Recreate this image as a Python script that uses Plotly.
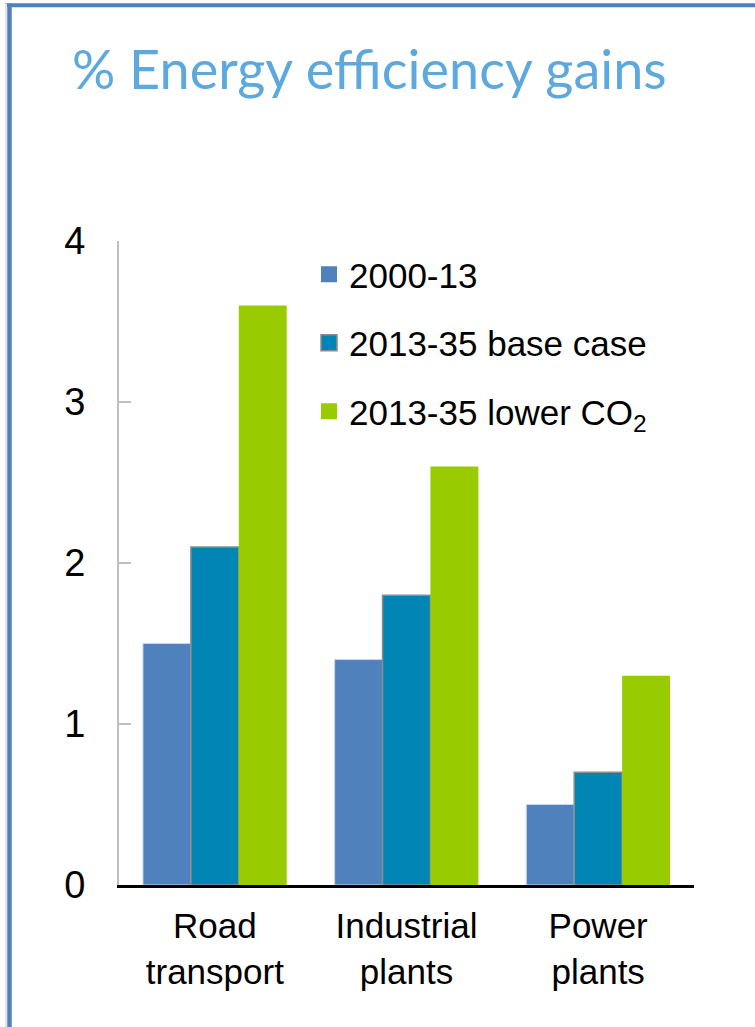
import plotly.graph_objects as go

# Sectors on the x axis (two-line tick labels)
categories = ["Road<br>transport", "Industrial<br>plants", "Power<br>plants"]

# Average annual energy efficiency gains, %
series_names = ["2000-13", "2013-35 base case", "2013-35 lower CO<sub>2</sub>"]
gains_2000_13 = [1.5, 1.4, 0.5]
gains_2013_35_base = [2.1, 1.8, 0.7]
gains_2013_35_low_co2 = [3.6, 2.6, 1.3]

y_ticks = [0, 1, 2, 3, 4]

colors = ["#4F81BD", "#0085B5", "#99CC00"]
outline_colors = ["#C9D6EA", "#8C8C8C", "#99CC00"]
outline_widths = [1, 1.5, 0]

W, H = 755, 1027
M_L, M_R, M_T, M_B = 119, 61, 241, 142
plot_w = W - M_L - M_R
plot_h = H - M_T - M_B


def px_to_paper_x(px):
    return (px - M_L) / plot_w


def px_to_paper_y(py):
    return (H - M_B - py) / plot_h


fig = go.Figure()

values = [gains_2000_13, gains_2013_35_base, gains_2013_35_low_co2]
for i, (name, vals) in enumerate(zip(series_names, values)):
    fig.add_trace(go.Bar(
        x=categories,
        y=vals,
        name=name,
        showlegend=False,
        marker=dict(color=colors[i],
                    line=dict(color=outline_colors[i], width=outline_widths[i])),
    ))

# Legend entries with larger square swatches
for i, name in enumerate(series_names):
    fig.add_trace(go.Scatter(
        x=[None], y=[None],
        mode="markers",
        name=name,
        legendgroup=f"g{i}",
        marker=dict(symbol="square", size=16, color=colors[i],
                    line=dict(color=outline_colors[i] if i == 1 else colors[i],
                              width=1.5 if i == 1 else 0)),
    ))

fig.update_layout(
    width=W,
    height=H,
    margin=dict(l=M_L, r=M_R, t=M_T, b=M_B, pad=0),
    paper_bgcolor="white",
    plot_bgcolor="white",
    barmode="group",
    bargap=0.25,
    bargroupgap=0,
    font=dict(family="Liberation Sans, Arial, sans-serif", color="black"),
    title=dict(
        text="% Energy efficiency gains",
        font=dict(family="Lato, sans-serif", size=54, color="#5DA9DD"),
        xref="container", yref="container",
        x=72 / W, xanchor="left",
        y=1 - 51 / H, yanchor="top",
    ),
    legend=dict(
        x=px_to_paper_x(309), xanchor="left",
        y=px_to_paper_y(245), yanchor="top",
        font=dict(size=35, color="black"),
        bgcolor="rgba(0,0,0,0)",
        traceorder="grouped",
        tracegroupgap=20,
    ),
    showlegend=True,
)

fig.update_yaxes(
    range=[0, 4],
    tickvals=y_ticks,
    ticks="inside",
    ticklen=12,
    tickwidth=2,
    tickcolor="#BFBFBF",
    showline=True,
    linecolor="#BFBFBF",
    linewidth=2,
    showgrid=False,
    zeroline=False,
    tickfont=dict(size=38, color="black"),
    ticklabelstandoff=24,
)

fig.update_xaxes(
    showline=True,
    linecolor="black",
    linewidth=3,
    ticks="",
    showgrid=False,
    tickfont=dict(size=35, color="black"),
    ticklabelstandoff=8,
)

# Slide frame: blue rules along the top and left edges
fig.add_shape(type="line", xref="paper", yref="paper",
              x0=px_to_paper_x(5), x1=px_to_paper_x(760),
              y0=px_to_paper_y(5.3), y1=px_to_paper_y(5.3),
              line=dict(color="#4F81BD", width=4))
fig.add_shape(type="line", xref="paper", yref="paper",
              x0=px_to_paper_x(6), x1=px_to_paper_x(6),
              y0=px_to_paper_y(3.5), y1=px_to_paper_y(1030),
              line=dict(color="#E4E4E4", width=2))
fig.add_shape(type="line", xref="paper", yref="paper",
              x0=px_to_paper_x(9.5), x1=px_to_paper_x(9.5),
              y0=px_to_paper_y(3.5), y1=px_to_paper_y(1030),
              line=dict(color="#4F81BD", width=4.5))

fig.write_html("out.html")
